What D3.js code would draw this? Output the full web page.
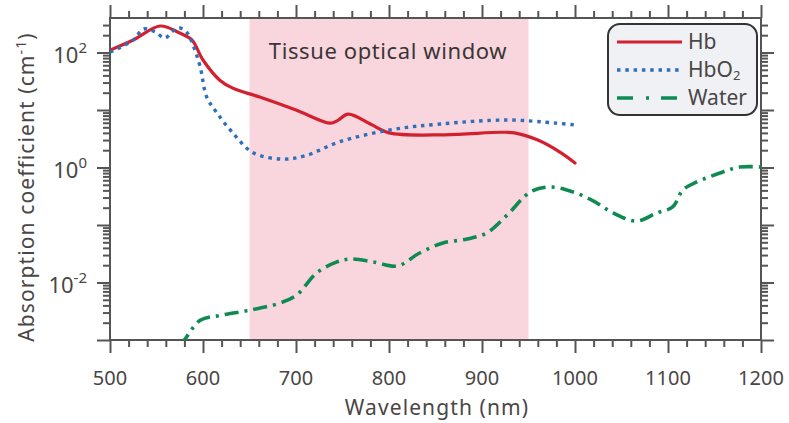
<!DOCTYPE html>
<html>
<head>
<meta charset="utf-8">
<script src="https://cdn.jsdelivr.net/npm/d3@7"></script>
<style>
body { margin: 0; background: #fff; }
text { font-family: "Noto Sans", "Open Sans", sans-serif; }
</style>
</head>
<body>
<div id="main"></div>
<script>
// data (wavelength nm, absorption coefficient cm^-1)
const hbNm  = [500, 525, 554, 575, 588, 600, 618, 632, 661, 700, 737, 745, 756, 780, 800, 860, 920, 935, 960, 985, 1000];
const hbVal = [110, 165, 289, 218, 165, 74, 33, 24, 16.8, 10, 5.9, 6.6, 8.5, 5.7, 4.0, 3.7, 4.1, 4.0, 3.0, 1.8, 1.2];

const hbo2Nm  = [500, 510, 525, 536, 548, 559, 568, 575, 583, 590, 597, 604, 615, 632, 654, 686, 710, 747, 801, 855, 927, 980, 1000];
const hbo2Val = [102, 120, 165, 256, 230, 179, 240, 267, 220, 125, 56, 16.8, 8.9, 4.0, 1.8, 1.4, 1.6, 2.8, 4.5, 5.7, 6.7, 5.9, 5.5];

const waterNm  = [575, 580, 597, 620, 650, 683, 701, 722, 744, 758, 783, 809, 833, 858, 884, 905, 927, 952, 973, 998, 1020, 1041, 1066, 1088, 1105, 1116, 1131, 1159, 1177, 1200];
const waterVal = [0.0008, 0.001, 0.0022, 0.0027, 0.0033, 0.0044, 0.0061, 0.0146, 0.0228, 0.0256, 0.0228, 0.0194, 0.0326, 0.0486, 0.057, 0.0727, 0.149, 0.375, 0.458, 0.375, 0.261, 0.162, 0.117, 0.162, 0.206, 0.406, 0.56, 0.836, 1.02, 1.02];

const windowNm = [650, 950];
const xTicks = [500, 600, 700, 800, 900, 1000, 1100, 1200];
const yLabelExps = [-2, 0, 2];

const W = 789, H = 423;
const pad = { top: 18, left: 110, right: 28, bottom: 83 };
const axisCol = '#555', textCol = '#4a4646';

const x = d3.scaleLinear().domain([500, 1200]).range([pad.left, W - pad.right]);
const y = d3.scaleLog().domain([1e-3, Math.pow(10, 2.6)]).range([H - pad.bottom, pad.top]);

const svg = d3.select('#main').append('svg')
    .attr('width', W)
    .attr('height', H);

svg.append('defs').append('clipPath')
    .attr('id', 'plot-clip')
    .append('rect')
    .attr('x', pad.left)
    .attr('y', pad.top)
    .attr('width', x(1200) - pad.left)
    .attr('height', y(1e-3) - pad.top);

// tissue optical window band
svg.append('rect')
    .attr('x', x(windowNm[0]))
    .attr('y', pad.top)
    .attr('width', x(windowNm[1]) - x(windowNm[0]))
    .attr('height', y(1e-3) - pad.top)
    .attr('fill', '#f9d6dd');

svg.append('text')
    .attr('x', 388)
    .attr('y', 59)
    .attr('text-anchor', 'middle')
    .attr('font-size', 22)
    .attr('letter-spacing', 0.6)
    .attr('fill', '#3a3636')
    .text('Tissue optical window');

// minor ticks
const xMinor = d3.range(500, 1201, 20).filter(d => d % 100 !== 0);
const yMajor = d3.range(-3, 3).map(e => Math.pow(10, e));
const yMinor = [];
d3.range(-3, 3).forEach(e => d3.range(2, 10).forEach(k => {
    const v = k * Math.pow(10, e);
    if (v <= y.domain()[1]) yMinor.push(v);
}));

const pBottom = y(1e-3), pTop = pad.top, pLeft = pad.left, pRight = x(1200);

const addAxis = (axisFn, scale, vals, size, tr) => {
    const g = svg.append('g')
        .attr('transform', tr)
        .call(axisFn(scale).tickValues(vals).tickSize(size).tickSizeOuter(0).tickFormat(''));
    g.select('.domain').remove();
    g.selectAll('line').attr('stroke', axisCol).attr('stroke-width', 2);
    return g;
};

addAxis(d3.axisBottom, x, xMinor, 7, `translate(0,${pBottom})`);
addAxis(d3.axisBottom, x, xTicks, 13, `translate(0,${pBottom})`);
addAxis(d3.axisTop, x, xMinor, 7, `translate(0,${pTop})`);
addAxis(d3.axisTop, x, xTicks, 13, `translate(0,${pTop})`);
addAxis(d3.axisLeft, y, yMinor, 7, `translate(${pLeft},0)`);
addAxis(d3.axisLeft, y, yMajor, 13, `translate(${pLeft},0)`);
addAxis(d3.axisRight, y, yMinor, 7, `translate(${pRight},0)`);
addAxis(d3.axisRight, y, yMajor, 13, `translate(${pRight},0)`);

svg.append('rect')
    .attr('x', pLeft)
    .attr('y', pTop)
    .attr('width', pRight - pLeft)
    .attr('height', pBottom - pTop)
    .attr('fill', 'none')
    .attr('stroke', axisCol)
    .attr('stroke-width', 2);

// tick labels
svg.append('g').selectAll('text')
    .data(xTicks)
    .enter()
    .append('text')
    .attr('x', d => x(d))
    .attr('y', pBottom + 45)
    .attr('text-anchor', 'middle')
    .attr('font-size', 20)
    .attr('fill', textCol)
    .text(d => d);

const yl = svg.append('g').selectAll('text')
    .data(yLabelExps)
    .enter()
    .append('text')
    .attr('x', pLeft - 23)
    .attr('y', d => y(Math.pow(10, d)) + 10)
    .attr('text-anchor', 'end')
    .attr('font-size', 22)
    .attr('fill', textCol);
yl.append('tspan').text('10');
yl.append('tspan')
    .attr('dy', -10)
    .attr('font-size', 15)
    .text(d => d);

svg.append('text')
    .attr('x', 437)
    .attr('y', 415)
    .attr('text-anchor', 'middle')
    .attr('font-size', 21)
    .attr('letter-spacing', 1.1)
    .attr('fill', textCol)
    .text('Wavelength (nm)');

const yt = svg.append('text')
    .attr('transform', `translate(34,187) rotate(-90)`)
    .attr('text-anchor', 'middle')
    .attr('font-size', 21)
    .attr('letter-spacing', 1.1)
    .attr('fill', textCol);
yt.append('tspan').text('Absorption coefficient (cm');
yt.append('tspan').attr('dy', -8).attr('font-size', 14).text('-1');
yt.append('tspan').attr('dy', 8).text(')');

// curves
const series = [
    { nm: hbNm, val: hbVal, color: '#d2202f', dash: null, width: 3.2, name: 'Hb' },
    { nm: hbo2Nm, val: hbo2Val, color: '#2f6fba', dash: '3.5,4.8', width: 3.4, name: 'HbO' },
    { nm: waterNm, val: waterVal, color: '#0f8a52', dash: '14,6,3,6', width: 3.6, name: 'Water' }
];

const line = d3.line()
    .x(d => x(d[0]))
    .y(d => y(d[1]))
    .curve(d3.curveCatmullRom.alpha(0.5));

svg.append('g')
    .attr('clip-path', 'url(#plot-clip)')
    .selectAll('path')
    .data(series)
    .enter()
    .append('path')
    .attr('d', s => line(d3.zip(s.nm, s.val)))
    .attr('fill', 'none')
    .attr('stroke', s => s.color)
    .attr('stroke-width', s => s.width)
    .attr('stroke-dasharray', s => s.dash)
    .attr('stroke-linecap', s => s.dash ? 'butt' : 'round');

// legend
const leg = svg.append('g').attr('id', 'legend');
leg.append('rect')
    .attr('x', 608)
    .attr('y', 24)
    .attr('width', 149)
    .attr('height', 91)
    .attr('rx', 12)
    .attr('fill', '#eff1f4')
    .attr('stroke', '#333')
    .attr('stroke-width', 2);

const items = leg.selectAll('g.item')
    .data(series)
    .enter()
    .append('g')
    .attr('class', 'item')
    .attr('transform', (d, i) => `translate(0,${42 + i * 28})`);

items.append('line')
    .attr('x1', 617)
    .attr('x2', 682)
    .attr('stroke', d => d.color)
    .attr('stroke-width', d => d.width)
    .attr('stroke-dasharray', (d, i) => i === 2 ? '16,13,3,12' : d.dash);

const lt = items.append('text')
    .attr('x', 688)
    .attr('y', 7)
    .attr('font-size', 21)
    .attr('fill', textCol)
    .text(d => d.name);
lt.filter(d => d.name === 'HbO')
    .append('tspan')
    .attr('dy', 3)
    .attr('font-size', 13)
    .text('2');
</script>
</body>
</html>
